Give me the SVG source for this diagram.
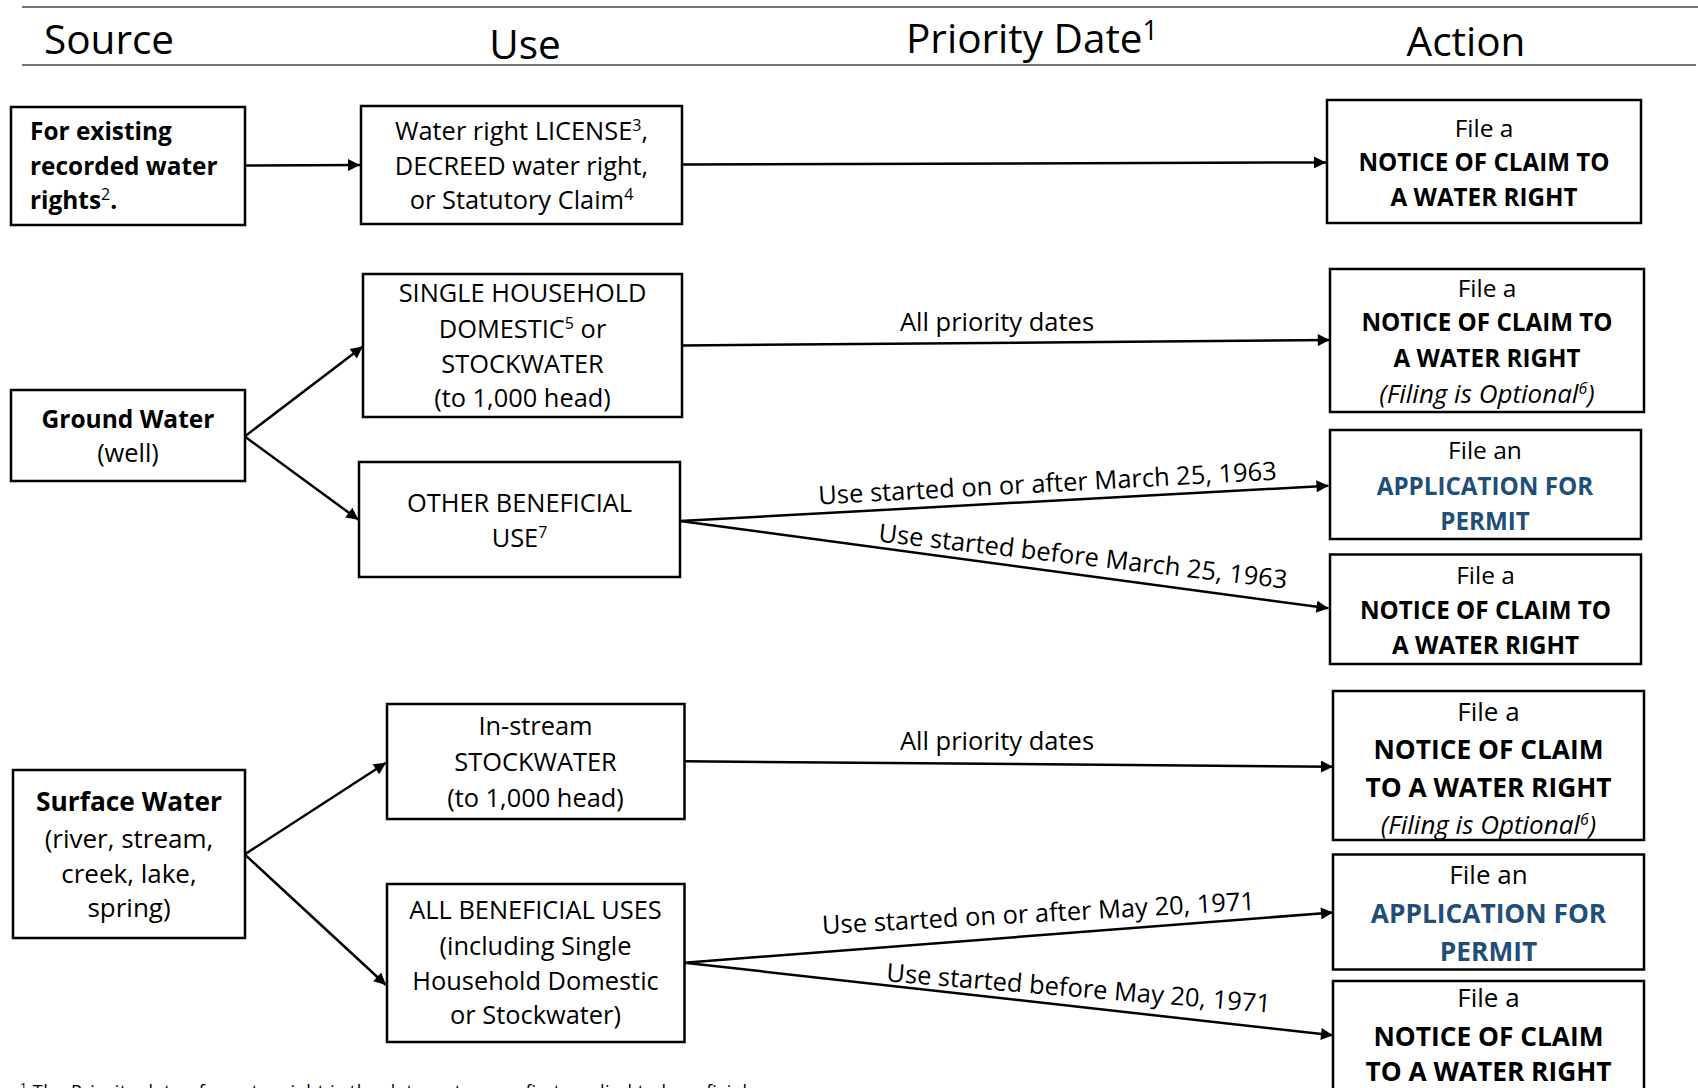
<svg xmlns="http://www.w3.org/2000/svg" width="1698" height="1088" viewBox="0 0 1698 1088">
<defs>
<marker id="arr" viewBox="0 0 10 10" refX="10" refY="5" markerWidth="14" markerHeight="12" markerUnits="userSpaceOnUse" orient="auto">
<path d="M0,0 L10,5 L0,10 z" fill="#000"/>
</marker>
<style>
text{font-family:"Open Sans","Noto Sans","DejaVu Sans",sans-serif;fill:#000}
.hdr{font-size:40.5px}
.box{fill:#fff;stroke:#000;stroke-width:2.5}
.t{font-size:25.4px;text-anchor:middle}
.tb{font-size:24.5px;font-weight:bold;text-anchor:middle}
.tl{font-size:24.4px;font-weight:bold}
.a{font-size:24.5px;text-anchor:middle}
.ab{font-size:24.2px;font-weight:bold;text-anchor:middle}
.a2{font-size:26px;text-anchor:middle}
.ab2{font-size:26.3px;font-weight:bold;text-anchor:middle}
.it{font-style:italic;font-size:26px}
.blue{fill:#1f4e79}
.lbl{font-size:25.5px;text-anchor:middle}
.conn line{stroke:#000;stroke-width:2.5;marker-end:url(#arr)}
.rule{stroke:#444;stroke-width:1.5}
.sup{font-size:16px}
.hsup{font-size:27px}
</style>
</defs>

<g id="header">
<line class="rule" x1="22" y1="7" x2="1698" y2="7"/>
<line class="rule" x1="22" y1="65" x2="1696" y2="65"/>
<text class="hdr" x="44" y="54">Source</text>
<text class="hdr" x="525" y="59" text-anchor="middle">Use</text>
<text class="hdr" x="906" y="53">Priority Date<tspan class="hsup" dy="-13">1</tspan></text>
<text class="hdr" x="1466" y="56" text-anchor="middle">Action</text>
</g>

<g id="conn" class="conn">
<line x1="245" y1="165.5" x2="360" y2="165"/>
<line x1="682" y1="164.6" x2="1326" y2="162.4"/>
<line x1="244.7" y1="436.4" x2="362.8" y2="346.5"/>
<line x1="244.7" y1="436.4" x2="358.5" y2="519.8"/>
<line x1="682" y1="345.5" x2="1329.8" y2="340"/>
<line x1="680" y1="521" x2="1328.5" y2="485.7"/>
<line x1="680" y1="521" x2="1328.5" y2="608.3"/>
<line x1="244.7" y1="854.4" x2="386" y2="762.8"/>
<line x1="244.7" y1="854.4" x2="386" y2="985"/>
<line x1="684.4" y1="761.3" x2="1333" y2="766.7"/>
<line x1="684.4" y1="962.7" x2="1333" y2="912.5"/>
<line x1="684.4" y1="962.7" x2="1333" y2="1035.3"/>
<text class="lbl" x="997" y="331">All priority dates</text>
<text class="lbl" x="1048" y="492" transform="rotate(-3.1 1048 492)">Use started on or after March 25, 1963</text>
<text class="lbl" x="1082" y="565" transform="rotate(6.6 1082 565)">Use started before March 25, 1963</text>
<text class="lbl" x="997" y="750">All priority dates</text>
<text class="lbl" x="1039" y="922" transform="rotate(-3.2 1039 922)">Use started on or after May 20, 1971</text>
<text class="lbl" x="1078" y="997" transform="rotate(4.7 1078 997)">Use started before May 20, 1971</text>
</g>

<g id="n-existing">
<rect class="box" x="11" y="107" width="234" height="118"/>
<text class="tl" x="30" y="140">For existing</text>
<text class="tl" x="30" y="174.5">recorded water</text>
<text class="tl" x="30" y="209">rights<tspan class="sup" font-weight="normal" dy="-9">2</tspan><tspan dy="9">.</tspan></text>
</g>

<g id="n-license">
<rect class="box" x="361" y="106" width="321" height="118"/>
<text class="t" x="521.5" y="140">Water right LICENSE<tspan class="sup" dy="-9">3</tspan><tspan dy="9">,</tspan></text>
<text class="t" x="521.5" y="174.5">DECREED water right,</text>
<text class="t" x="521.5" y="209">or Statutory Claim<tspan class="sup" dy="-9">4</tspan></text>
</g>

<g id="n-act1">
<rect class="box" x="1327" y="100" width="314" height="123"/>
<text class="a" x="1484" y="136.5">File a</text>
<text class="ab" x="1484" y="171">NOTICE OF CLAIM TO</text>
<text class="ab" x="1484" y="206">A WATER RIGHT</text>
</g>

<g id="n-ground">
<rect class="box" x="11" y="390" width="234" height="91"/>
<text class="tb" x="128" y="428">Ground Water</text>
<text class="t" x="128" y="462">(well)</text>
</g>

<g id="n-single">
<rect class="box" x="363" y="274" width="319" height="143"/>
<text class="t" x="522.5" y="302">SINGLE HOUSEHOLD</text>
<text class="t" x="522.5" y="337.5">DOMESTIC<tspan class="sup" dy="-9">5</tspan><tspan dy="9"> or</tspan></text>
<text class="t" x="522.5" y="372.5">STOCKWATER</text>
<text class="t" x="522.5" y="407">(to 1,000 head)</text>
</g>

<g id="n-other">
<rect class="box" x="359" y="462" width="321" height="115"/>
<text class="t" x="519.5" y="512">OTHER BENEFICIAL</text>
<text class="t" x="519.5" y="547">USE<tspan class="sup" dy="-9">7</tspan></text>
</g>

<g id="n-act2">
<rect class="box" x="1330" y="269" width="314" height="143"/>
<text class="a" x="1487" y="296.7">File a</text>
<text class="ab" x="1487" y="331.4">NOTICE OF CLAIM TO</text>
<text class="ab" x="1487" y="367">A WATER RIGHT</text>
<text class="a it" x="1487" y="402.8">(Filing is Optional<tspan class="sup" dy="-9">6</tspan><tspan dy="9">)</tspan></text>
</g>

<g id="n-act3">
<rect class="box" x="1330" y="430" width="311" height="109"/>
<text class="a" x="1485" y="459">File an</text>
<text class="ab blue" x="1485" y="495">APPLICATION FOR</text>
<text class="ab blue" x="1485" y="529.5">PERMIT</text>
</g>

<g id="n-act4">
<rect class="box" x="1330" y="554.5" width="311" height="109.5"/>
<text class="a" x="1485.5" y="583.7">File a</text>
<text class="ab" x="1485.5" y="619.4">NOTICE OF CLAIM TO</text>
<text class="ab" x="1485.5" y="654">A WATER RIGHT</text>
</g>

<g id="n-surface">
<rect class="box" x="13" y="770" width="232" height="168"/>
<text class="ab2" x="129" y="811">Surface Water</text>
<text class="a2" x="129" y="848">(river, stream,</text>
<text class="a2" x="129" y="882.6">creek, lake,</text>
<text class="a2" x="129" y="917">spring)</text>
</g>

<g id="n-instream">
<rect class="box" x="387" y="704" width="297.5" height="115"/>
<text class="t" x="535.5" y="735.3">In-stream</text>
<text class="t" x="535.5" y="771">STOCKWATER</text>
<text class="t" x="535.5" y="806.8">(to 1,000 head)</text>
</g>

<g id="n-allben">
<rect class="box" x="387" y="884" width="297.5" height="158"/>
<text class="t" x="535.5" y="919.4">ALL BENEFICIAL USES</text>
<text class="t" x="535.5" y="955">(including Single</text>
<text class="t" x="535.5" y="989.8">Household Domestic</text>
<text class="t" x="535.5" y="1024.4">or Stockwater)</text>
</g>

<g id="n-act5">
<rect class="box" x="1333" y="691" width="311" height="149"/>
<text class="a2" x="1488.5" y="721">File a</text>
<text class="ab2" x="1488.5" y="759">NOTICE OF CLAIM</text>
<text class="ab2" x="1488.5" y="797">TO A WATER RIGHT</text>
<text class="a it" x="1488.5" y="834">(Filing is Optional<tspan class="sup" dy="-9">6</tspan><tspan dy="9">)</tspan></text>
</g>

<g id="n-act6">
<rect class="box" x="1333" y="854.5" width="311" height="115"/>
<text class="a2" x="1488.5" y="883.6">File an</text>
<text class="ab2 blue" x="1488.5" y="922.6">APPLICATION FOR</text>
<text class="ab2 blue" x="1488.5" y="960.5">PERMIT</text>
</g>

<g id="n-act7">
<rect class="box" x="1333" y="981" width="311" height="130"/>
<text class="a2" x="1488.5" y="1007">File a</text>
<text class="ab2" x="1488.5" y="1046">NOTICE OF CLAIM</text>
<text class="ab2" x="1488.5" y="1081">TO A WATER RIGHT</text>
</g>

<g id="footnote">
<text x="20" y="1098" font-size="18" textLength="727" lengthAdjust="spacing"><tspan font-size="12" dy="-6">1</tspan><tspan dy="6"> The Priority date of a water right is the date water was first applied to beneficial</tspan></text>
</g>
</svg>
